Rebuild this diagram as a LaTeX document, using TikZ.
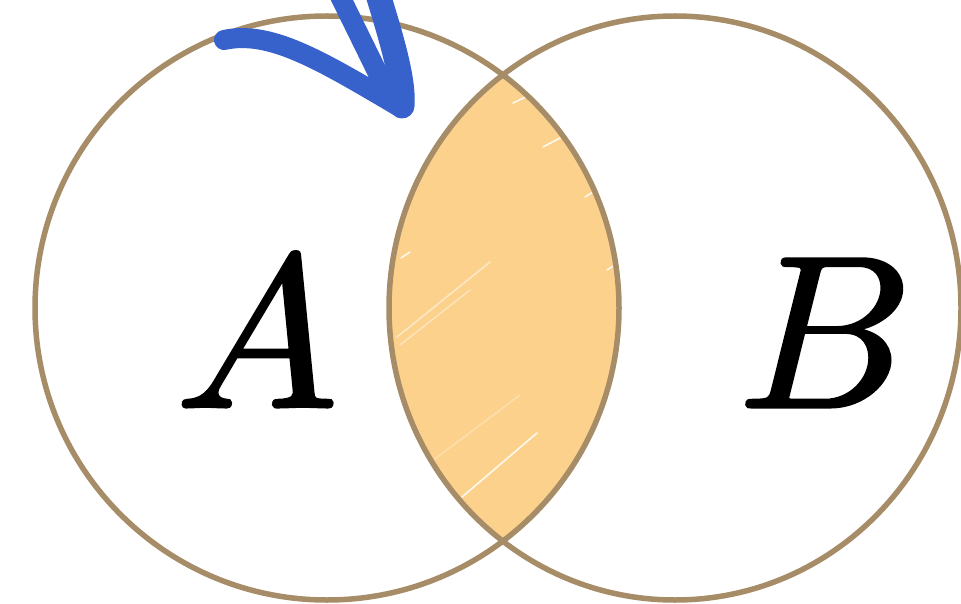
\documentclass[tikz,border=0pt]{standalone}
\usepackage{fontspec}
\newfontfamily\setfont[FakeBold=1.4]{Latin Modern Math}
\definecolor{ringc}{HTML}{A78C68}
\definecolor{lensc}{HTML}{FCD18C}
\definecolor{arrowc}{HTML}{3762CC}
\tikzset{
  ring/.style={draw=ringc, line width=5.5pt},
  streak/.style={draw=white, line width=1.6pt, line cap=round, opacity=0.85},
  pen/.style={draw=arrowc, line cap=round, line join=round},
  setlabel/.style={anchor=base, inner sep=0pt, font=\fontsize{217}{217}\setfont}
}
\begin{document}
\begin{tikzpicture}[x=1pt,y=-1pt]
\useasboundingbox (0,0) rectangle (961,604);
\begin{scope}
  \clip (327,308) circle (292pt);
  \fill[lensc] (675,308) ellipse (286pt and 292pt);
  \draw[streak] (462,497) -- (537,433);
  \draw[streak, opacity=0.5] (397,337) -- (490,262);
  \draw[streak] (513,103) -- (530,95);
  \draw[streak] (543,147) -- (560,138);
  \draw[streak] (585,197) -- (593,192);
  \draw[streak] (607,270) -- (613,266);
  \draw[streak] (401,258) -- (410,252);
  \draw[streak, opacity=0.4] (400,345) -- (470,290);
  \draw[streak, opacity=0.3] (420,470) -- (520,395);
\end{scope}
\draw[ring] (327,308) circle (292pt);
\draw[ring] (675,308) ellipse (286pt and 292pt);
\node[setlabel] (A) at (257,407) {𝐴};
\node[setlabel] (B) at (820,407) {𝐵};
% hand-drawn arrow
\draw[pen, line width=20pt] (224,40) .. controls (270,30) and (320,60) .. (398,106);
\draw[pen, line width=20pt] (336,-12) -- (390,98);
\draw[pen, line width=25pt] (376,-12) .. controls (392,40) and (404,80) .. (402,106);
\end{tikzpicture}
\end{document}
